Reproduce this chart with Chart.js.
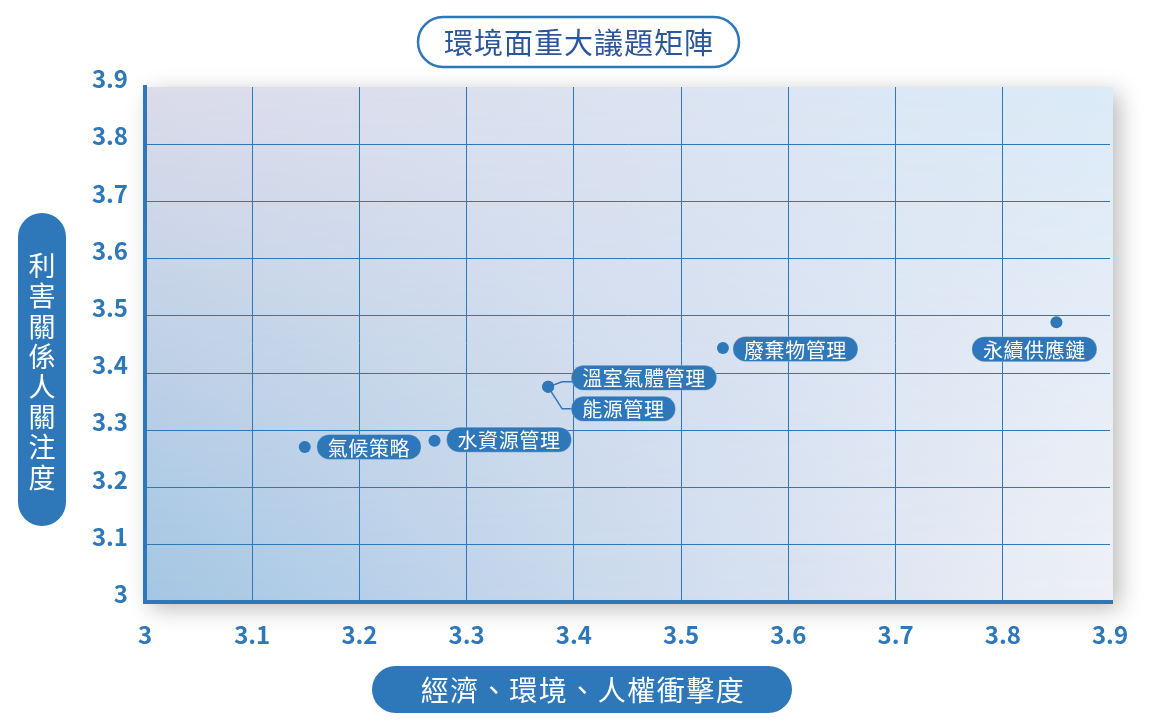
<!DOCTYPE html>
<html>
<head>
<meta charset="utf-8">
<script src="https://cdn.jsdelivr.net/npm/chart.js@4.4.0/dist/chart.umd.min.js"></script>
<style>
html,body{margin:0;padding:0;background:#ffffff;}
#wrap{width:1150px;height:723px;position:relative;}
</style>
</head>
<body>
<div id="wrap"><canvas id="c" width="1150" height="723"></canvas></div>
<script>
// ---- data ----
const issues = ['氣候策略', '水資源管理', '溫室氣體管理', '能源管理', '廢棄物管理', '永續供應鏈'];
const impactScores = [3.149, 3.270, 3.376, 3.376, 3.539, 3.850];
const concernScores = [3.271, 3.282, 3.376, 3.376, 3.444, 3.489];
const xTickValues = [3, 3.1, 3.2, 3.3, 3.4, 3.5, 3.6, 3.7, 3.8, 3.9];
const yTickValues = [3, 3.1, 3.2, 3.3, 3.4, 3.5, 3.6, 3.7, 3.8, 3.9];
const xTickLabels = ['3', '3.1', '3.2', '3.3', '3.4', '3.5', '3.6', '3.7', '3.8', '3.9'];
const yTickLabels = ['3', '3.1', '3.2', '3.3', '3.4', '3.5', '3.6', '3.7', '3.8', '3.9'];
const chartTitle = '環境面重大議題矩陣';
const xAxisTitle = '經濟、環境、人權衝擊度';
const yAxisTitle = '利害關係人關注度';

// ---- style ----
const FONT = "'Noto Sans CJK TC', 'Noto Sans', sans-serif";
const BLUE = '#2e77b8';
const TITLE_BLUE = '#2b5699';
// label placement relative to its point (style only)
const labelPlacement = [
  { dx: 12, dy: 0 },
  { dx: 12, dy: -1 },
  { dx: 23, dy: -9, connector: { kx: 14, ky: -5 } },
  { dx: 23, dy: 22, connector: { kx: 14, ky: 22 } },
  { dx: 10, dy: 1 },
  { dx: -22, dy: 27, center: true }
];

function roundRect(ctx, x, y, w, h) {
  const r = Math.min(w, h) / 2;
  ctx.beginPath();
  ctx.moveTo(x + r, y);
  ctx.lineTo(x + w - r, y);
  ctx.arcTo(x + w, y, x + w, y + r, r);
  ctx.lineTo(x + w, y + h - r);
  ctx.arcTo(x + w, y + h, x + w - r, y + h, r);
  ctx.lineTo(x + r, y + h);
  ctx.arcTo(x, y + h, x, y + h - r, r);
  ctx.lineTo(x, y + r);
  ctx.arcTo(x, y, x + r, y, r);
  ctx.closePath();
}

const backgroundPlugin = {
  id: 'plotBackground',
  beforeDraw(chart) {
    const { ctx, chartArea } = chart;
    const x = chartArea.left, y = chartArea.top;
    const w = chartArea.right - chartArea.left + 3, h = chartArea.bottom - chartArea.top;
    ctx.save();
    ctx.shadowColor = 'rgba(0,0,0,0.28)';
    ctx.shadowBlur = 22;
    ctx.shadowOffsetX = 6;
    ctx.shadowOffsetY = 6;
    ctx.fillStyle = '#e6ebf3';
    ctx.fillRect(x, y, w, h);
    ctx.restore();

    // bilinear gradient
    const off = document.createElement('canvas');
    off.width = Math.ceil(w); off.height = Math.ceil(h);
    const o = off.getContext('2d');
    const gTop = o.createLinearGradient(0, 0, w, 0);
    gTop.addColorStop(0, '#dcdcea');
    gTop.addColorStop(1, '#dcebf8');
    o.fillStyle = gTop; o.fillRect(0, 0, w, h);
    const off2 = document.createElement('canvas');
    off2.width = off.width; off2.height = off.height;
    const o2 = off2.getContext('2d');
    const gBot = o2.createLinearGradient(0, 0, w, 0);
    gBot.addColorStop(0, '#a2c6e3');
    gBot.addColorStop(0.45, '#c9d8ec');
    gBot.addColorStop(1, '#eff0f6');
    o2.fillStyle = gBot; o2.fillRect(0, 0, w, h);
    o2.globalCompositeOperation = 'destination-in';
    const mask = o2.createLinearGradient(0, 0, 0, h);
    mask.addColorStop(0, 'rgba(0,0,0,0)');
    mask.addColorStop(1, 'rgba(0,0,0,1)');
    o2.fillStyle = mask; o2.fillRect(0, 0, w, h);
    o.drawImage(off2, 0, 0);
    ctx.drawImage(off, x, y);
  }
};

const annotationPlugin = {
  id: 'annotations',
  afterDatasetsDraw(chart) {
    const { ctx } = chart;
    const meta = chart.getDatasetMeta(0);
    ctx.save();
    ctx.font = '20px ' + FONT;
    try { ctx.letterSpacing = '0.6px'; } catch (e) {}
    ctx.textBaseline = 'middle';
    ctx.textAlign = 'center';
    meta.data.forEach((pt, i) => {
      const p = labelPlacement[i];
      const text = issues[i];
      const tw = ctx.measureText(text).width;
      const w = tw + 22, h = 25;
      const left = p.center ? pt.x + p.dx - w / 2 : pt.x + p.dx;
      const cy = pt.y + p.dy;
      if (p.connector) {
        ctx.beginPath();
        ctx.moveTo(pt.x, pt.y);
        ctx.lineTo(pt.x + p.connector.kx, pt.y + p.connector.ky);
        ctx.lineTo(left + 4, pt.y + p.connector.ky);
        ctx.strokeStyle = BLUE;
        ctx.lineWidth = 1.5;
        ctx.stroke();
      }
      roundRect(ctx, left, cy - h / 2, w, h);
      ctx.fillStyle = BLUE;
      ctx.fill();
      ctx.lineWidth = 1;
      ctx.strokeStyle = 'rgba(255,255,255,0.25)';
      ctx.stroke();
      ctx.fillStyle = '#ffffff';
      ctx.fillText(text, left + w / 2, cy + 1);
    });
    ctx.restore();
  },
  afterDraw(chart) {
    const { ctx, chartArea } = chart;
    ctx.save();
    // extend bottom axis line to the plot edge
    ctx.fillStyle = BLUE;
    ctx.fillRect(chartArea.right, chartArea.bottom - 2, 3, 4);

    ctx.textBaseline = 'middle';
    ctx.textAlign = 'center';
    // chart title (outlined pill)
    roundRect(ctx, 418, 17, 321, 50);
    ctx.fillStyle = '#ffffff';
    ctx.fill();
    ctx.lineWidth = 2.5;
    ctx.strokeStyle = BLUE;
    ctx.stroke();
    ctx.font = '29px ' + FONT;
    try { ctx.letterSpacing = '1px'; } catch (e) {}
    ctx.fillStyle = TITLE_BLUE;
    ctx.fillText(chartTitle, 579, 43);

    // x axis title
    roundRect(ctx, 372, 666, 420, 47);
    ctx.fillStyle = BLUE;
    ctx.fill();
    ctx.font = '28px ' + FONT;
    try { ctx.letterSpacing = '1.5px'; } catch (e) {}
    ctx.fillStyle = '#ffffff';
    ctx.fillText(xAxisTitle, 583, 690);

    // y axis title (vertical)
    roundRect(ctx, 18, 213, 48, 313);
    ctx.fillStyle = BLUE;
    ctx.fill();
    try { ctx.letterSpacing = '0px'; } catch (e) {}
    ctx.font = '27px ' + FONT;
    ctx.fillStyle = '#ffffff';
    const chars = Array.from(yAxisTitle);
    const step = 30.2;
    const startY = 266;
    chars.forEach((ch, i) => ctx.fillText(ch, 42, startY + i * step));
    ctx.restore();
  }
};

const gridColor = (c) => (c.tick && Math.abs(c.tick.value - 3.9) < 1e-9) ? 'rgba(0,0,0,0)' : BLUE;

new Chart(document.getElementById('c'), {
  type: 'scatter',
  data: {
    datasets: [{
      label: '議題',
      data: issues.map((n, i) => ({ x: impactScores[i], y: concernScores[i] })),
      backgroundColor: BLUE,
      borderColor: BLUE,
      borderWidth: 0,
      pointRadius: 6,
      pointHoverRadius: 6
    }]
  },
  options: {
    responsive: false,
    animation: false,
    devicePixelRatio: 1,
    layout: { padding: { top: 87, right: 40, left: 0, bottom: 0 } },
    plugins: {
      legend: { display: false },
      title: { display: false },
      tooltip: { enabled: false }
    },
    scales: {
      x: {
        type: 'linear',
        min: 3,
        max: 3.9,
        afterBuildTicks(scale) { scale.ticks = xTickValues.map(v => ({ value: v })); },
        afterFit(scale) { scale.height = 121; },
        grid: { color: gridColor, lineWidth: 1, drawTicks: false },
        border: { display: true, color: BLUE, width: 4 },
        ticks: {
          padding: 18,
          color: BLUE,
          font: { family: FONT, size: 24, weight: 'bold' },
          callback(v) { const i = xTickValues.findIndex(t => Math.abs(t - v) < 1e-9); return i >= 0 ? xTickLabels[i] : ''; }
        }
      },
      y: {
        type: 'linear',
        min: 3,
        max: 3.9,
        afterBuildTicks(scale) { scale.ticks = yTickValues.map(v => ({ value: v })); },
        afterFit(scale) { scale.width = 145; },
        grid: { color: gridColor, lineWidth: 1, drawTicks: false },
        border: { display: true, color: BLUE, width: 4 },
        ticks: {
          padding: 17,
          labelOffset: -8,
          color: BLUE,
          font: { family: FONT, size: 24, weight: 'bold' },
          callback(v) { const i = yTickValues.findIndex(t => Math.abs(t - v) < 1e-9); return i >= 0 ? yTickLabels[i] : ''; }
        }
      }
    }
  },
  plugins: [backgroundPlugin, annotationPlugin]
});
</script>
</body>
</html>
